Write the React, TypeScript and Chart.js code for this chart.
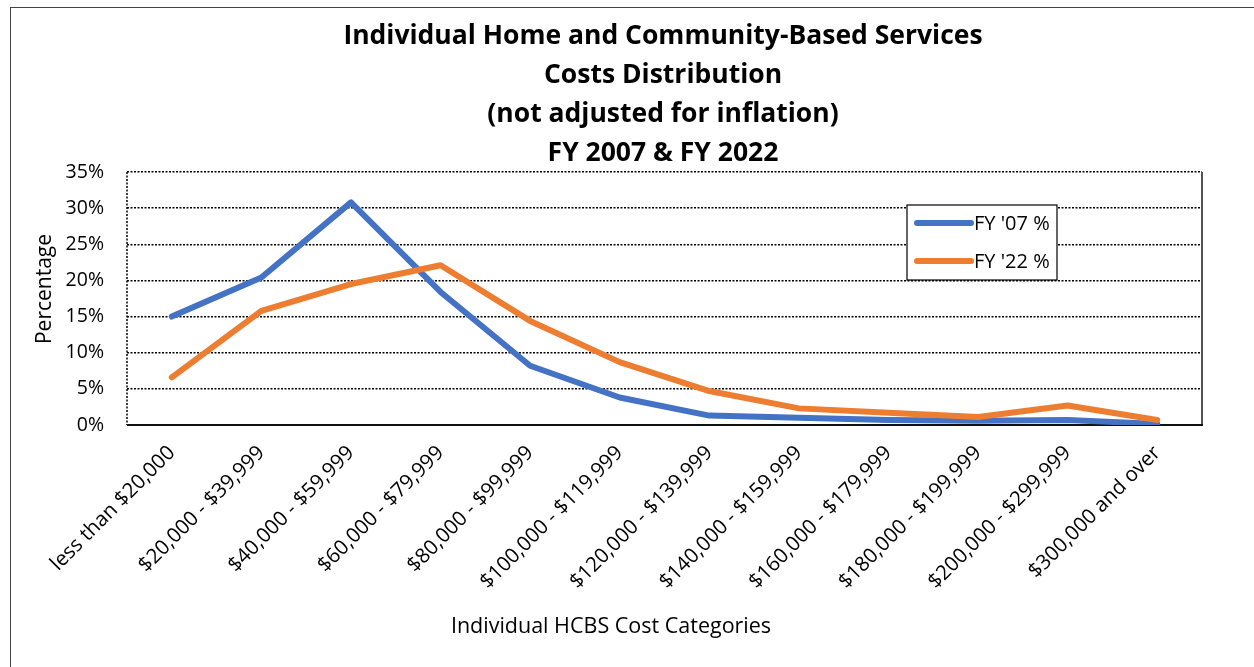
import React, { useEffect, useRef } from "react";
import { Chart, registerables } from "chart.js";

Chart.register(...registerables);

const categories = [
  "less than $20,000",
  "$20,000 - $39,999",
  "$40,000 - $59,999",
  "$60,000 - $79,999",
  "$80,000 - $99,999",
  "$100,000 - $119,999",
  "$120,000 - $139,999",
  "$140,000 - $159,999",
  "$160,000 - $179,999",
  "$180,000 - $199,999",
  "$200,000 - $299,999",
  "$300,000 and over",
];
const fy07Values = [15.0, 20.4, 30.8, 18.4, 8.2, 3.8, 1.3, 1.0, 0.7, 0.6, 0.7, 0.15];
const fy22Values = [6.6, 15.8, 19.5, 22.1, 14.4, 8.7, 4.7, 2.3, 1.7, 1.1, 2.7, 0.7];
const seriesLabels = ["FY '07 %", "FY '22 %"];
const seriesColors = ["#4472C4", "#ED7D31"];
const titleLines = [
  "Individual Home and Community-Based Services",
  "Costs Distribution",
  "(not adjusted for inflation)",
  "FY 2007 & FY 2022",
];
const yTitle = "Percentage";
const xTitle = "Individual HCBS Cost Categories";
const yMin = 0;
const yMax = 35;
const yStep = 5;

const FONT = "'Open Sans', Lato, sans-serif";

const decorPlugin = {
  id: "decor",
  beforeDatasetsDraw(chart: any) {
    const { ctx, chartArea: a } = chart;
    ctx.save();
    ctx.strokeStyle = "#000";
    ctx.lineWidth = 1.5;
    ctx.setLineDash([2, 1.5]);
    ctx.beginPath();
    ctx.moveTo(a.left, a.top);
    ctx.lineTo(a.left, a.bottom);
    ctx.stroke();
    ctx.setLineDash([]);
    ctx.strokeStyle = "#555";
    ctx.lineWidth = 2;
    ctx.beginPath();
    ctx.moveTo(a.right, a.top);
    ctx.lineTo(a.right, a.bottom);
    ctx.stroke();
    ctx.strokeStyle = "#111";
    ctx.lineWidth = 2;
    ctx.beginPath();
    ctx.moveTo(a.left, a.bottom);
    ctx.lineTo(a.right + 1, a.bottom);
    ctx.stroke();
    ctx.restore();
  },
  afterDraw(chart: any) {
    const { ctx } = chart;
    ctx.save();
    ctx.fillStyle = "#000";
    ctx.textAlign = "center";
    ctx.textBaseline = "middle";
    ctx.font = `bold 26.5px ${FONT}`;
    titleLines.forEach((t, i) => ctx.fillText(t, 663, 36 + i * 39));

    ctx.save();
    ctx.translate(45, 289);
    ctx.rotate(-Math.PI / 2);
    ctx.font = `21px ${FONT}`;
    ctx.fillText(yTitle, 0, 0);
    ctx.restore();

    ctx.font = `21.5px ${FONT}`;
    ctx.fillText(xTitle, 611, 627);

    const bx = 907, by = 205, bw = 150, bh = 75;
    ctx.fillStyle = "#fff";
    ctx.fillRect(bx, by, bw, bh);
    ctx.strokeStyle = "#000";
    ctx.lineWidth = 1.2;
    ctx.strokeRect(bx, by, bw, bh);
    ctx.textAlign = "left";
    ctx.font = `20px ${FONT}`;
    chart.data.datasets.forEach((ds: any, i: number) => {
      const y = by + 18 + i * 38;
      ctx.strokeStyle = ds.borderColor;
      ctx.lineWidth = 6;
      ctx.lineCap = "round";
      ctx.beginPath();
      ctx.moveTo(bx + 10, y);
      ctx.lineTo(bx + 64, y);
      ctx.stroke();
      ctx.fillStyle = "#000";
      ctx.fillText(ds.label, bx + 67, y + 1);
    });
    ctx.restore();
  },
};

export default function App() {
  const canvasRef = useRef<HTMLCanvasElement | null>(null);

  useEffect(() => {
    if (!canvasRef.current) return;
    const chart = new Chart(canvasRef.current, {
      type: "line",
      data: {
        labels: categories,
        datasets: [
          {
            label: seriesLabels[0],
            data: fy07Values,
            borderColor: seriesColors[0],
            backgroundColor: seriesColors[0],
            borderWidth: 6,
            pointRadius: 0,
            tension: 0,
            borderCapStyle: "round",
            borderJoinStyle: "round",
            order: 2,
          },
          {
            label: seriesLabels[1],
            data: fy22Values,
            borderColor: seriesColors[1],
            backgroundColor: seriesColors[1],
            borderWidth: 6,
            pointRadius: 0,
            tension: 0,
            borderCapStyle: "round",
            borderJoinStyle: "round",
            order: 1,
          },
        ],
      },
      options: {
        animation: false,
        responsive: false,
        devicePixelRatio: 1,
        layout: { padding: { top: 172, right: 52, left: 0, bottom: 0 } },
        plugins: {
          legend: { display: false },
          title: { display: false },
          tooltip: { enabled: false },
        },
        scales: {
          x: {
            offset: true,
            grid: { display: false, drawTicks: false, offset: true },
            border: { display: false },
            ticks: {
              autoSkip: false,
              maxRotation: 45,
              minRotation: 45,
              padding: 16,
              color: "#000",
              font: { family: FONT, size: 20.5 },
            },
            afterFit: (scale: any) => {
              scale.height = 242;
            },
          },
          y: {
            min: yMin,
            max: yMax,
            grid: { color: "#000", lineWidth: 1.5, drawTicks: false },
            border: { display: false, dash: [2, 1.5] },
            ticks: {
              stepSize: yStep,
              padding: 23,
              color: "#000",
              font: { family: FONT, size: 19.5 },
              callback: (v: any) => `${v}%`,
            },
            afterFit: (scale: any) => {
              scale.width = 127;
            },
          },
        },
      },
      plugins: [decorPlugin],
    });
    return () => chart.destroy();
  }, []);

  return (
    <div style={{ position: "fixed", left: 0, top: 0, width: 1254, height: 667, background: "#fff" }}>
      <div
        style={{
          position: "absolute",
          left: 10,
          top: 7,
          width: 1260,
          height: 680,
          border: "1.5px solid #444",
          boxSizing: "border-box",
        }}
      />
      <canvas
        ref={canvasRef}
        width={1254}
        height={667}
        style={{ position: "absolute", left: 0, top: 0, width: 1254, height: 667 }}
      />
    </div>
  );
}
